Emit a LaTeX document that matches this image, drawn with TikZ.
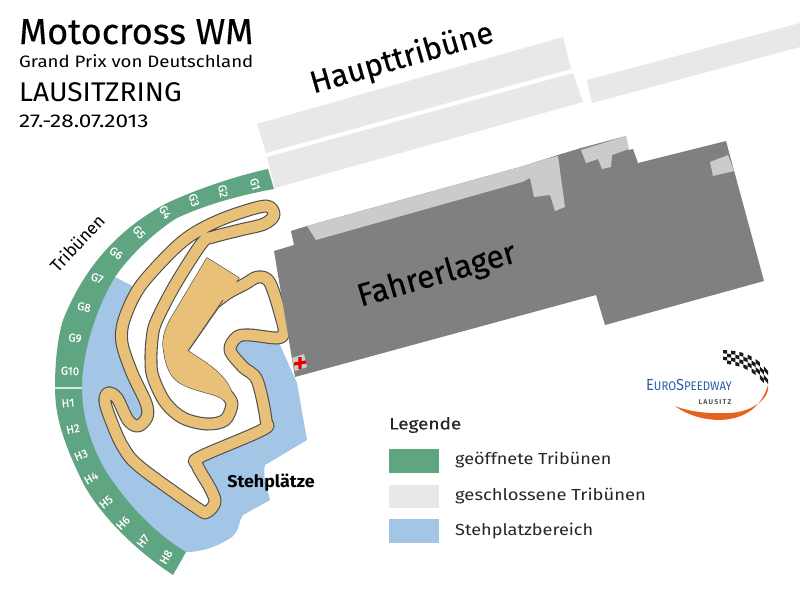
\documentclass[tikz,border=0pt]{standalone}
\usepackage{fontspec}
\setmainfont{Fira Sans}
\newfontfamily\medfont[FakeBold=0.35]{Fira Sans}
\definecolor{gruen}{HTML}{5FA582}
\definecolor{hell}{HTML}{E8E8E8}
\definecolor{blau}{HTML}{A4C6E6}
\definecolor{tan}{HTML}{E8C077}
\definecolor{rand}{HTML}{4D4D4D}
\definecolor{lager}{HTML}{808080}
\definecolor{lagerhell}{HTML}{CBCBCB}
\definecolor{logoblau}{HTML}{2A5CA8}
\definecolor{logoorange}{HTML}{E8621F}
\tikzset{
  seat/.style={text=white,font=\fontsize{11.5}{12}\selectfont\medfont,inner sep=0pt},
  legendtext/.style={anchor=west,inner sep=0pt,font=\fontsize{16}{18}\selectfont,text=black!85},
  titletext/.style={anchor=base west,inner sep=0pt,text=black},
  maplabel/.style={inner sep=0pt,text=black},
  legendbox/.style={minimum width=50pt,minimum height=23.5pt,inner sep=0pt,anchor=north west},
  trackdark/.style={draw=rand,line width=13pt,line join=round},
  tracktan/.style={draw=tan,line width=10.8pt,line join=round}
}
\newcommand\trackpath{plot[smooth,tension=.55] coordinates {
 (226,394) (232,404) (225,420) (207,424) (183,418) (165,402) (153,377) (151,360) (152,340) (156,322)
 (175,285) (202,243) (213,237) (240,230) (264,224) (274,215) (266,206) (233,215) (207,226) (187,238) (167,256)
 (139,288) (124,320) (122,343) (132,373) (146,403) (147,417) (138,426) (128,420) (117,398) (108,393)
 (105,402) (112,423) (123,447) (140,467) (197,508) (207,512) (215,502) (210,488) (197,465) (200,457)
 (262,430) (266,420) (257,380) (243,367) (230,350) (237,337) (250,335) (277,338) (284,333) (282,320)
 (270,283) (258,277) (245,284) (228,293) (212,305)}}
\newcommand\fieldpath{(207,258) -- (239,278) -- (188,351) .. controls (205,362) and (222,372) .. (230,388)
 -- (233,396) -- (224,400) .. controls (216,393) and (195,392) .. (180,383)
 .. controls (170,377) and (165,365) .. (163,345) .. controls (163,335) and (166,328) .. (170,320) -- cycle}
\begin{document}
\begin{tikzpicture}[x=1pt,y=-1pt]
\useasboundingbox (0,0) rectangle (800,614);
\fill[white] (0,0) rectangle (800,614);
% Haupttribuene
\fill[hell] (257,124) -- (563,37) -- (571,69) -- (266,153) -- cycle;
\fill[hell] (267,157) -- (573,73) -- (583,102) -- (275,188) -- cycle;
\fill[hell] (587,80) -- (800,23) -- (800,47) -- (592,103) -- cycle;
% Stehplaetze
\fill[blau] (115,277) -- (140,290) -- (200,300) -- (275,325) -- (280,345) -- (297,383) -- (307,440)
 -- (265,465) .. controls (262,475) and (268,490) .. (270,500) -- (243,515) .. controls (238,522) and (240,530) .. (232,537)
 .. controls (215,548) and (200,552) .. (186,552) -- (150,540) -- (90,470) -- (70,390) -- (90,310) -- cycle;
\fill[white] \trackpath -- (188,351) -- cycle;
\fill[white] (190,250) -- (240,270) -- (216,303) -- (188,351) -- (226,394) -- (225,420) -- (207,424) -- (183,418) -- (165,402) -- (153,377) -- (151,360) -- (152,340) -- (156,322) -- (175,285) -- cycle;
% Strecke
\draw[trackdark] \trackpath;
\draw[rand,fill=rand,line width=1.2pt,line join=round] \fieldpath;
\draw[tracktan] \trackpath;
\fill[tan] \fieldpath;
\draw[rand,line width=.8pt] (223,300) -- (188,351);
% Tribuenen
\fill[gruen] (268,169) .. controls (235,176) and (195,190) .. (167,203) .. controls (120,228) and (85,265) .. (63,320)
 .. controls (57,340) and (55,365) .. (55,387) .. controls (55,415) and (62,440) .. (83,483)
 .. controls (100,515) and (135,550) .. (173,575) -- (186,552) .. controls (150,530) and (125,500) .. (107,473)
 .. controls (90,445) and (82,415) .. (82,387) .. controls (82,355) and (95,310) .. (115,277)
 .. controls (135,248) and (165,225) .. (177,218) .. controls (205,205) and (240,195) .. (274,189) -- cycle;
\draw[white!75!gruen,line width=1.2pt] (55,388) -- (82,388);
\foreach \t/\x/\y/\r in {G1/255/184/-75,G2/223/191/-78,G3/194/200/-72,G4/165/212/-60,G5/139/232/-50,G6/116/253/-35,G7/97/278/-20,G8/84/307/-12,G9/75/338/-5,G10/70/371/-2,H1/68/403/5,H2/73/429/12,H3/81/455/22,H4/91/478/30,H5/106/502/40,H6/123/523/45,H7/143/541/52,H8/166/557/60}
  \node[seat,rotate=\r] (seat\t) at (\x,\y) {\t};
% Fahrerlager
\fill[lager] (274,251) -- (294,245) -- (291,231) -- (307,226) -- (520,167) -- (558,155) -- (581,148) -- (626,136) -- (628,150) -- (633,149) -- (638,163)
 -- (726,141) -- (764,281) -- (605,325) -- (596,295) -- (295,377) -- cycle;
\fill[lagerhell] (307,226) -- (520,167) -- (546,159) -- (558,156) -- (565,207) -- (555,211) -- (550,195) -- (534,197) -- (530,178) -- (522,182) -- (316,240) -- cycle;
\fill[lagerhell] (581,150) -- (626,136) -- (629,149) -- (612,155) -- (611,167) -- (602,169) -- (598,159) -- (586,163) -- cycle;
\fill[lagerhell] (710,162) -- (728,155) -- (734,171) -- (713,176) -- cycle;
\fill[lagerhell] (292,358) -- (304,354) -- (307,367) -- (295,371) -- cycle;
\draw[red!90!black,line width=3.2pt] (300,357) -- (300,369) (294,364) -- (306,362);
% Schriften
\node[titletext,font=\fontsize{36}{38}\selectfont\medfont] (t1) at (19,44) {Motocross WM};
\node[titletext,font=\fontsize{16.5}{18}\selectfont] (t2) at (19,67) {\scalebox{1.13}[1]{Grand Prix von Deutschland}};
\node[titletext,font=\fontsize{27}{28}\selectfont] (t3) at (19,101) {\scalebox{1.04}[1]{LAUSITZRING}};
\node[titletext,font=\fontsize{18.5}{20}\selectfont] (t4) at (19,127) {\scalebox{1.22}[1]{27.-28.07.2013}};
\node[maplabel,rotate=16,font=\fontsize{31}{32}\selectfont\medfont] (haupt) at (402,59) {Haupttribüne};
\node[maplabel,rotate=16,font=\fontsize{32}{34}\selectfont\medfont] (fahrer) at (437,276) {Fahrerlager};
\node[maplabel,rotate=47,font=\fontsize{17.5}{18}\selectfont] (trib) at (77,243) {Tribünen};
\node[maplabel,font=\fontsize{17}{18}\selectfont\bfseries] (steh) at (271,483) {\scalebox{1.05}[1]{Stehplätze}};
% Legende
\node[legendtext,font=\fontsize{16.5}{18}\selectfont\medfont] (leg) at (389,425) {\scalebox{1.15}[1]{Legende}};
\node[legendbox,fill=gruen] (b1) at (389,449) {};
\node[legendbox,fill=hell] (b2) at (389,484.5) {};
\node[legendbox,fill=blau] (b3) at (389,519) {};
\node[legendtext] (l1) at (455,460) {\scalebox{1.13}[1]{geöffnete Tribünen}};
\node[legendtext] (l2) at (455,496) {\scalebox{1.15}[1]{geschlossene Tribünen}};
\node[legendtext] (l3) at (455,531) {\scalebox{1.13}[1]{Stehplatzbereich}};
% Logo
\foreach \i in {0,...,10}
  \foreach \j in {0,...,3} {
    \pgfmathsetmacro\ua{\i/11}
    \pgfmathsetmacro\ub{(\i+1)/11}
    \pgfmathsetmacro\ya{350+3*\ua+18*\ua*\ua*\ua}
    \pgfmathsetmacro\yb{350+3*\ub+18*\ub*\ub*\ub}
    \pgfmathsetmacro\ha{3.3+1.0*\ua}
    \pgfmathsetmacro\hb{3.3+1.0*\ub}
    \pgfmathsetmacro\xa{723+\ua*45}
    \pgfmathsetmacro\xb{723+\ub*45}
    \pgfmathtruncatemacro\parity{mod(\i+\j,2)}
    \ifnum\parity=0
      \fill[black!90] (\xa,{\ya+\j*\ha}) -- (\xb,{\yb+\j*\hb}) -- (\xb,{\yb+(\j+1)*\hb}) -- (\xa,{\ya+(\j+1)*\ha}) -- cycle;
    \fi
  }
\fill[logoorange] (675,406) .. controls (700,425) and (755,430) .. (768,385)
 .. controls (770,400) and (750,412) .. (730,413) .. controls (710,414) and (690,412) .. (675,406) -- cycle;
\node[anchor=base west,inner sep=0pt,text=logoblau] (logo1) at (646,390) {\scalebox{.91}[1]{\fontsize{16}{18}\selectfont E\fontsize{12.5}{18}\selectfont URO\fontsize{16}{18}\selectfont S\fontsize{12.5}{18}\selectfont PEEDWAY}};
\node[inner sep=0pt,text=black!65,font=\fontsize{7}{8}\selectfont\bfseries] (logo2) at (715,402) {L\,A\,U\,S\,I\,T\,Z};
\end{tikzpicture}
\end{document}
